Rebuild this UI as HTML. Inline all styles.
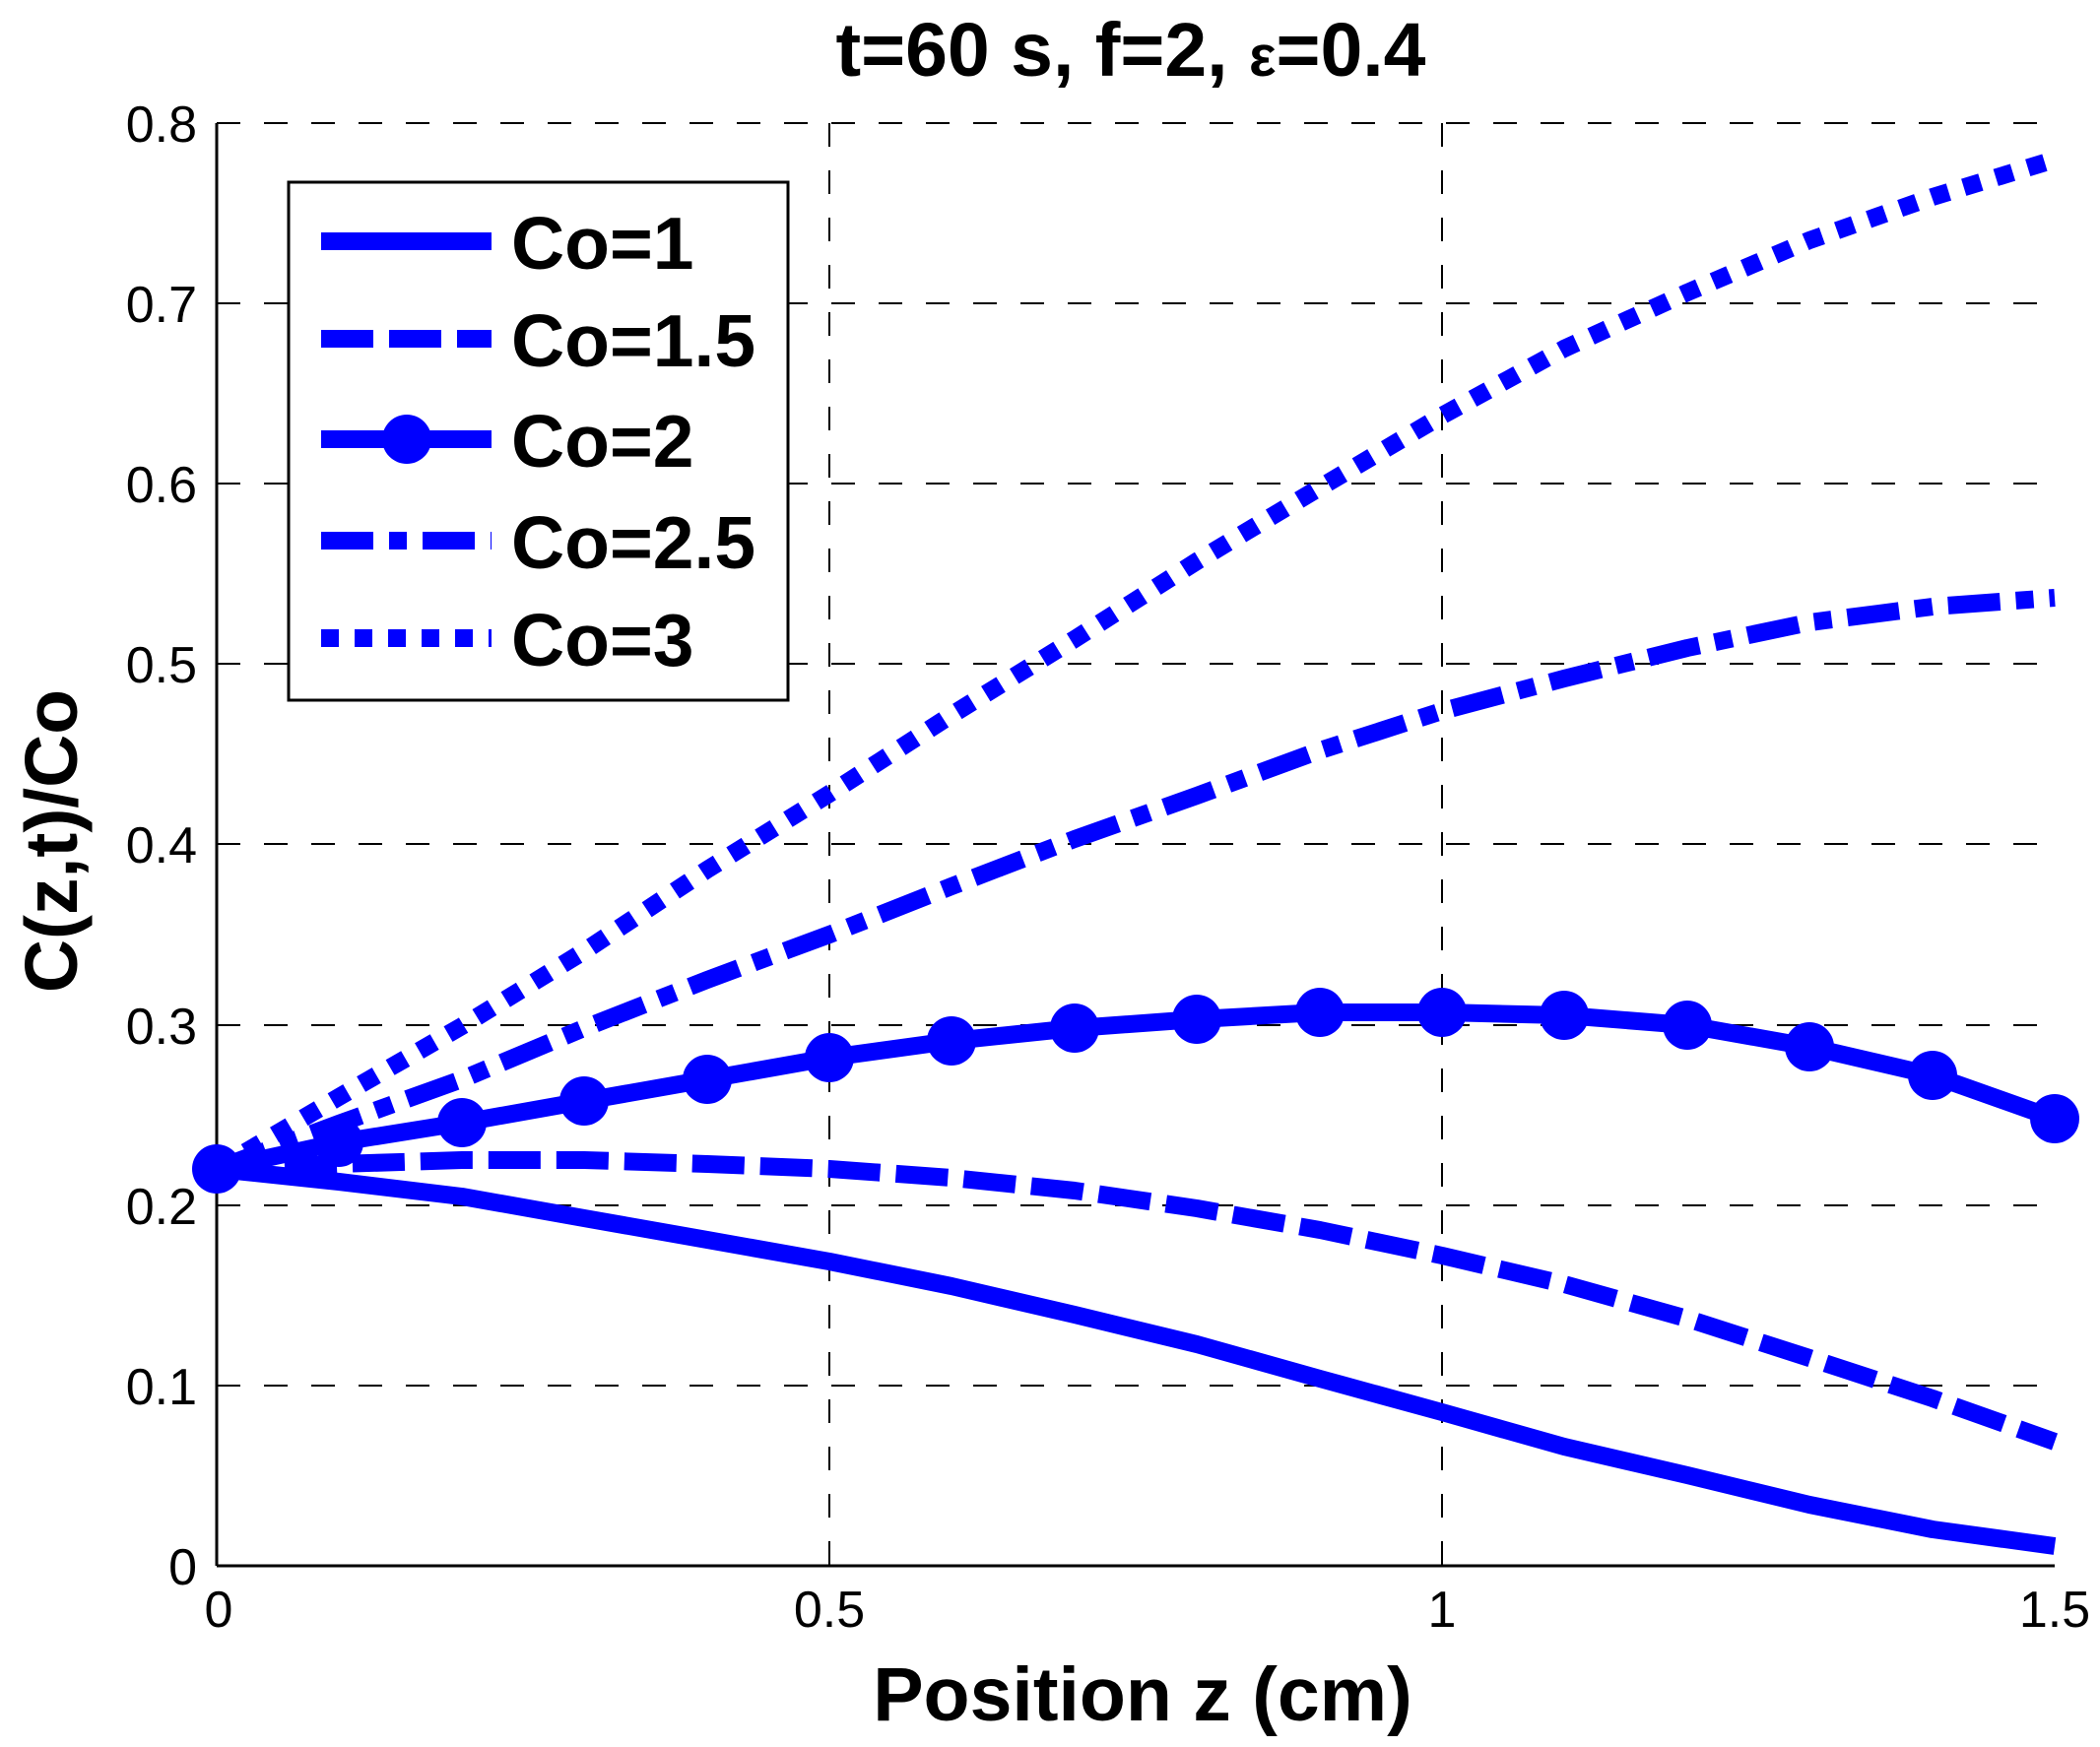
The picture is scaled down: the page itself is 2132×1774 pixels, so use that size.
<!DOCTYPE html>
<html><head><meta charset="utf-8"><style>html,body{margin:0;padding:0;background:#fff}svg{display:block}</style></head>
<body>
<svg width="2132" height="1774" viewBox="0 0 2132 1774" xmlns="http://www.w3.org/2000/svg" font-family="Liberation Sans, Arial, sans-serif">
<rect width="2132" height="1774" fill="#fff"/>
<g stroke="#000" stroke-width="2" stroke-dasharray="24,24" fill="none">
<line x1="842" y1="125" x2="842" y2="1590"/>
<line x1="1464" y1="125" x2="1464" y2="1590"/>
<line x1="220" y1="125" x2="2086" y2="125"/>
<line x1="220" y1="308" x2="2086" y2="308"/>
<line x1="220" y1="491" x2="2086" y2="491"/>
<line x1="220" y1="674" x2="2086" y2="674"/>
<line x1="220" y1="857" x2="2086" y2="857"/>
<line x1="220" y1="1041" x2="2086" y2="1041"/>
<line x1="220" y1="1224" x2="2086" y2="1224"/>
<line x1="220" y1="1407" x2="2086" y2="1407"/>
</g>
<g stroke="#000" stroke-width="3" fill="none">
<line x1="220" y1="1590" x2="2086" y2="1590"/>
<line x1="220" y1="125" x2="220" y2="1590"/>
</g>
<g font-size="52" fill="#000" text-anchor="end">
<text x="200" y="144">0.8</text>
<text x="200" y="327">0.7</text>
<text x="200" y="510">0.6</text>
<text x="200" y="693">0.5</text>
<text x="200" y="876">0.4</text>
<text x="200" y="1060">0.3</text>
<text x="200" y="1243">0.2</text>
<text x="200" y="1426">0.1</text>
<text x="200" y="1609">0</text>
</g>
<g font-size="52" fill="#000" text-anchor="middle">
<text x="222" y="1652">0</text>
<text x="842" y="1652">0.5</text>
<text x="1464" y="1652">1</text>
<text x="2086" y="1652">1.5</text>
</g>
<text x="1148" y="77" font-size="77" font-weight="bold" text-anchor="middle">t=60 s, f=2, <tspan font-size="58">ε</tspan>=0.4</text>
<text x="1160" y="1747" font-size="77" font-weight="bold" text-anchor="middle">Position z (cm)</text>
<text transform="translate(78,854) rotate(-90)" font-size="75" font-weight="bold" text-anchor="middle">C(z,t)/Co</text>
<g fill="none" stroke="#0000ff" stroke-width="18" stroke-linejoin="round">
<polyline points="220,1187 344,1200 469,1215 593,1237 718,1259 842,1281 966,1306 1091,1335 1215,1365 1340,1400 1464,1434 1588,1469 1713,1498 1837,1528 1962,1553 2086,1570"/>
<polyline stroke-dasharray="53,16" points="220,1187 344,1182 469,1178 593,1178 718,1182 842,1187 966,1196 1091,1209 1215,1227 1340,1249 1464,1275 1588,1304 1713,1339 1837,1379 1962,1420 2086,1464"/>
<polyline points="220,1187 344,1160 469,1140 593,1118 718,1096 842,1074 966,1057 1091,1044 1215,1035 1340,1028 1464,1028 1588,1031 1713,1041 1837,1063 1962,1092 2086,1136"/>
<polyline stroke-dasharray="53,16,18,16" points="220,1187 344,1141 469,1096 593,1044 718,995 842,949 966,900 1091,852 1215,808 1340,762 1464,722 1588,689 1713,658 1837,632 1962,616 2086,607"/>
<polyline stroke-dasharray="18,16" points="220,1187 344,1114 469,1042 593,966 718,883 842,806 966,726 1091,649 1215,570 1340,495 1464,422 1588,354 1713,297 1837,244 1962,200 2086,162"/>
</g>
<g fill="#0000ff">
<circle cx="220" cy="1187" r="25"/><circle cx="344" cy="1160" r="25"/><circle cx="469" cy="1140" r="25"/><circle cx="593" cy="1118" r="25"/><circle cx="718" cy="1096" r="25"/><circle cx="842" cy="1074" r="25"/><circle cx="966" cy="1057" r="25"/><circle cx="1091" cy="1044" r="25"/><circle cx="1215" cy="1035" r="25"/><circle cx="1340" cy="1028" r="25"/><circle cx="1464" cy="1028" r="25"/><circle cx="1588" cy="1031" r="25"/><circle cx="1713" cy="1041" r="25"/><circle cx="1837" cy="1063" r="25"/><circle cx="1962" cy="1092" r="25"/><circle cx="2086" cy="1136" r="25"/>
</g>
<rect x="293" y="185" width="507" height="526" fill="#fff" stroke="#000" stroke-width="3"/>
<g stroke="#0000ff" stroke-width="18" fill="none">
<line x1="326" y1="245" x2="499" y2="245"/>
<line x1="326" y1="344" x2="499" y2="344" stroke-dasharray="53,16"/>
<line x1="326" y1="446" x2="499" y2="446"/>
<line x1="326" y1="549" x2="499" y2="549" stroke-dasharray="53,16,18,16"/>
<line x1="326" y1="648" x2="499" y2="648" stroke-dasharray="18,16"/>
</g>
<circle cx="413" cy="446" r="25" fill="#0000ff"/>
<g font-size="75" font-weight="bold" fill="#000">
<text x="519" y="273">Co=1</text>
<text x="519" y="372">Co=1.5</text>
<text x="519" y="474">Co=2</text>
<text x="519" y="577">Co=2.5</text>
<text x="519" y="676">Co=3</text>
</g>
</svg>
</body></html>
